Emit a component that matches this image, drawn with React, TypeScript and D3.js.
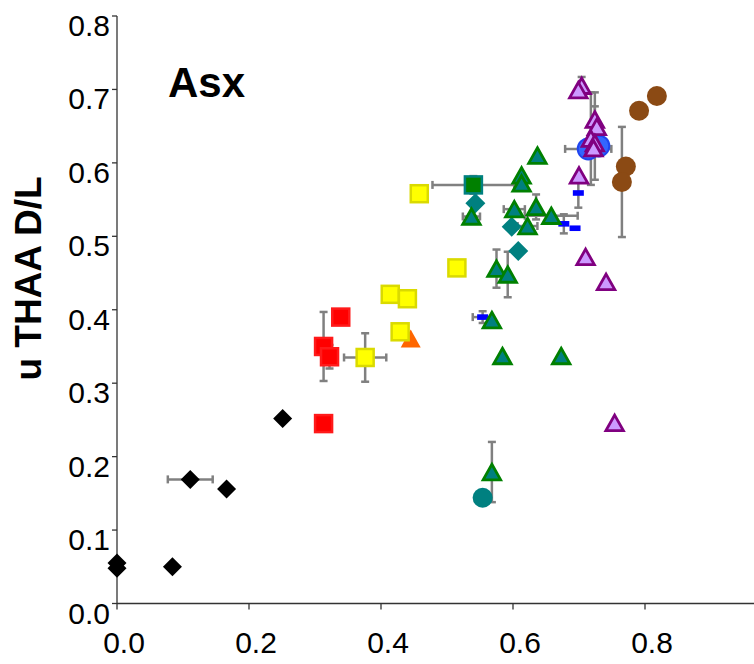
import React from "react";
import * as d3 from "d3";

type P = { x: number; y: number; xe?: number; ye?: number };

const xTicks = [0, 0.2, 0.4, 0.6, 0.8];
const yTicks = [0, 0.1, 0.2, 0.3, 0.4, 0.5, 0.6, 0.7, 0.8];
const yTitle = "u THAA D/L";
const panelLabel = "Asx";

const blackDiamonds: P[] = [
  { x: 0, y: 0.055 },
  { x: 0, y: 0.048 },
  { x: 0.084, y: 0.05 },
  { x: 0.111, y: 0.169, xe: 0.034 },
  { x: 0.166, y: 0.156 },
  { x: 0.251, y: 0.252 },
];
const redSquares: P[] = [
  { x: 0.339, y: 0.39 },
  { x: 0.313, y: 0.35, ye: 0.047 },
  { x: 0.322, y: 0.336, ye: 0.016 },
  { x: 0.313, y: 0.245 },
];
const orangeTriangles: P[] = [{ x: 0.445, y: 0.361 }];
const yellowSquares: P[] = [
  { x: 0.458, y: 0.558 },
  { x: 0.515, y: 0.457 },
  { x: 0.414, y: 0.421 },
  { x: 0.44, y: 0.415 },
  { x: 0.429, y: 0.37 },
  { x: 0.376, y: 0.335, xe: 0.032, ye: 0.033 },
];
const tealCircles: P[] = [{ x: 0.554, y: 0.144 }];
const brownCircles: P[] = [
  { x: 0.818, y: 0.691 },
  { x: 0.791, y: 0.671 },
  { x: 0.771, y: 0.595 },
  { x: 0.765, y: 0.574, ye: 0.075 },
];
const blueCircles: P[] = [
  { x: 0.714, y: 0.619, xe: 0.035 },
  { x: 0.73, y: 0.623 },
];
const tealDiamonds: P[] = [
  { x: 0.543, y: 0.545 },
  { x: 0.598, y: 0.513 },
  { x: 0.608, y: 0.48 },
];
const greenSquares: P[] = [{ x: 0.54, y: 0.57, xe: 0.062, ye: 0.012 }];
const blueBars: P[] = [
  { x: 0.699, y: 0.559, ye: 0.02 },
  { x: 0.677, y: 0.517, ye: 0.013 },
  { x: 0.694, y: 0.511 },
  { x: 0.554, y: 0.39, xe: 0.015, ye: 0.008 },
];
const greenTriangles: P[] = [
  { x: 0.637, y: 0.61 },
  { x: 0.613, y: 0.583 },
  { x: 0.613, y: 0.572 },
  { x: 0.537, y: 0.527, xe: 0.013 },
  { x: 0.602, y: 0.537, xe: 0.016 },
  { x: 0.635, y: 0.54, ye: 0.017 },
  { x: 0.658, y: 0.528, xe: 0.04 },
  { x: 0.622, y: 0.514, xe: 0.015 },
  { x: 0.575, y: 0.456, ye: 0.026 },
  { x: 0.592, y: 0.448, ye: 0.031 },
  { x: 0.568, y: 0.386 },
  { x: 0.584, y: 0.337 },
  { x: 0.673, y: 0.337 },
  { x: 0.568, y: 0.179, ye: 0.041 },
];
const purpleTriangles: P[] = [
  { x: 0.704, y: 0.705, ye: 0.012 },
  { x: 0.699, y: 0.699 },
  { x: 0.724, y: 0.659, ye: 0.037 },
  { x: 0.727, y: 0.649 },
  { x: 0.718, y: 0.633, ye: 0.063 },
  { x: 0.724, y: 0.627, ye: 0.05 },
  { x: 0.722, y: 0.62 },
  { x: 0.7, y: 0.583 },
  { x: 0.71, y: 0.472 },
  { x: 0.741, y: 0.438 },
  { x: 0.754, y: 0.246 },
];

const W = 754;
const H = 664;
const FONT = "'Liberation Sans', Arial, sans-serif";

const x = d3.scaleLinear().domain([0, 1]).range([117, 777]);
const y = d3.scaleLinear().domain([0, 0.8]).range([603.5, 16]);

const ERR = "#808080";

function ErrorBars({ data }: { data: P[] }) {
  const cap = 4;
  return (
    <g stroke={ERR} strokeWidth={2.5} fill="none">
      {data.map((d, i) => {
        const cx = x(d.x);
        const cy = y(d.y);
        const out: any[] = [];
        if (d.xe) {
          const x0 = x(d.x - d.xe);
          const x1 = x(d.x + d.xe);
          out.push(<line key="xl" x1={x0} x2={x1} y1={cy} y2={cy} />);
          out.push(<line key="xc0" x1={x0} x2={x0} y1={cy - cap} y2={cy + cap} />);
          out.push(<line key="xc1" x1={x1} x2={x1} y1={cy - cap} y2={cy + cap} />);
        }
        if (d.ye) {
          const y0 = y(d.y - d.ye);
          const y1 = y(d.y + d.ye);
          out.push(<line key="yl" x1={cx} x2={cx} y1={y0} y2={y1} />);
          out.push(<line key="yc0" x1={cx - cap} x2={cx + cap} y1={y0} y2={y0} />);
          out.push(<line key="yc1" x1={cx - cap} x2={cx + cap} y1={y1} y2={y1} />);
        }
        return <g key={i}>{out}</g>;
      })}
    </g>
  );
}

function triPath(cx: number, cy: number, s: number, h: number) {
  const p = d3.path();
  p.moveTo(cx, cy - h / 2);
  p.lineTo(cx + s / 2, cy + h / 2);
  p.lineTo(cx - s / 2, cy + h / 2);
  p.closePath();
  return p.toString();
}
function diamondPath(cx: number, cy: number, r: number) {
  const p = d3.path();
  p.moveTo(cx, cy - r);
  p.lineTo(cx + r, cy);
  p.lineTo(cx, cy + r);
  p.lineTo(cx - r, cy);
  p.closePath();
  return p.toString();
}

function Triangles({ data, fill, stroke }: { data: P[]; fill: string; stroke?: string }) {
  return (
    <g>
      {data.map((d, i) => (
        <path
          key={i}
          d={triPath(x(d.x), y(d.y), stroke ? 17.5 : 20, stroke ? 15.5 : 18)}
          fill={fill}
          stroke={stroke || "none"}
          strokeWidth={2.8}
          strokeLinejoin="miter"
        />
      ))}
    </g>
  );
}
function Squares({ data, fill, stroke }: { data: P[]; fill: string; stroke: string }) {
  const s = 17;
  return (
    <g>
      {data.map((d, i) => (
        <rect key={i} x={x(d.x) - s / 2} y={y(d.y) - s / 2} width={s} height={s} fill={fill} stroke={stroke} strokeWidth={2.5} />
      ))}
    </g>
  );
}
function Diamonds({ data, fill, r }: { data: P[]; fill: string; r: number }) {
  return (
    <g>
      {data.map((d, i) => (
        <path key={i} d={diamondPath(x(d.x), y(d.y), r)} fill={fill} />
      ))}
    </g>
  );
}
function Circles({ data, fill, stroke, r }: { data: P[]; fill: string; stroke?: string; r: number }) {
  return (
    <g>
      {data.map((d, i) => (
        <circle key={i} cx={x(d.x)} cy={y(d.y)} r={r} fill={fill} stroke={stroke || "none"} strokeWidth={2} />
      ))}
    </g>
  );
}
function Bars({ data, fill }: { data: P[]; fill: string }) {
  return (
    <g>
      {data.map((d, i) => (
        <rect key={i} x={x(d.x) - 5.5} y={y(d.y) - 2.8} width={11} height={5.6} fill={fill} />
      ))}
    </g>
  );
}

export default function App() {
  const all = [
    ...blackDiamonds,
    ...redSquares,
    ...yellowSquares,
    ...tealCircles,
    ...brownCircles,
    ...blueCircles,
    ...tealDiamonds,
    ...greenSquares,
    ...blueBars,
    ...greenTriangles,
    ...purpleTriangles,
  ].filter((d) => d.xe || d.ye);
  const axisColor = "#333333";
  return (
    <svg
      width={W}
      height={H}
      style={{ position: "absolute", left: 0, top: 0, background: "#ffffff" }}
      fontFamily={FONT}
    >
      <g stroke={axisColor} strokeWidth={1.3}>
        <line x1={x(0)} x2={x(0)} y1={y(0)} y2={y(0.8)} />
        <line x1={x(0)} x2={W} y1={y(0)} y2={y(0)} />
        {yTicks.map((t) => (
          <line key={"yt" + t} x1={x(0) - 5} x2={x(0)} y1={y(t)} y2={y(t)} />
        ))}
        {xTicks.map((t) => (
          <line key={"xt" + t} x1={x(t)} x2={x(t)} y1={y(0)} y2={y(0) + 6} />
        ))}
      </g>
      <g fontSize={30} fill="#000">
        {yTicks.map((t) => (
          <text key={"yl" + t} x={110} y={y(t) + 20} textAnchor="end">
            {d3.format(".1f")(t)}
          </text>
        ))}
        {xTicks.map((t) => (
          <text key={"xl" + t} x={x(t) + 7} y={653} textAnchor="middle">
            {d3.format(".1f")(t)}
          </text>
        ))}
      </g>
      <text
        transform={`translate(41,278.5) rotate(-90)`}
        textAnchor="middle"
        fontSize={37}
        fontWeight="bold"
      >
        {yTitle}
      </text>
      <text x={168} y={97} fontSize={42} fontWeight="bold">
        {panelLabel}
      </text>

      <ErrorBars data={all} />

      <Diamonds data={blackDiamonds} fill="#000000" r={9.5} />
      <Squares data={redSquares} fill="#FF0000" stroke="#FF1a1a" />
      <Triangles data={orangeTriangles} fill="#FF6600" />
      <Squares data={yellowSquares} fill="#FFFF00" stroke="#DADA00" />
      <Circles data={tealCircles} fill="#008080" r={10} />
      <Circles data={brownCircles} fill="#8B4A14" r={10} />
      <Circles data={blueCircles} fill="#3366FF" stroke="#1f45f0" r={10.5} />
      <Diamonds data={tealDiamonds} fill="#008080" r={10} />
      <Squares data={greenSquares} fill="#008000" stroke="#008080" />
      <Bars data={blueBars} fill="#0000FF" />
      <Triangles data={greenTriangles} fill="#008080" stroke="#008000" />
      <Triangles data={purpleTriangles} fill="#CC99FF" stroke="#800080" />
    </svg>
  );
}
